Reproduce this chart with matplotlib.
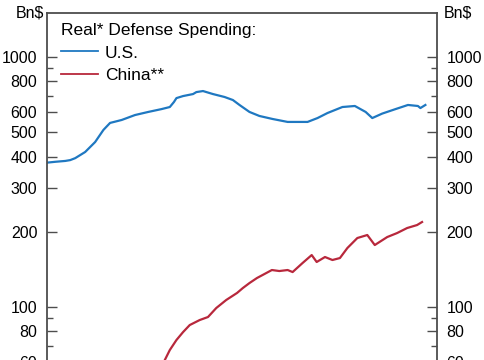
import matplotlib
matplotlib.use("Agg")
import matplotlib.pyplot as plt
from matplotlib.ticker import FixedLocator, FixedFormatter, NullFormatter
import math

plt.rcParams['font.family'] = ['Liberation Sans', 'DejaVu Sans']

# ---- data (decimal years, billions of real dollars) ----
us_years = [2001.5, 2002.0, 2002.6, 2002.9, 2003.2, 2003.8, 2004.4, 2004.9, 2005.3,
            2006.0, 2006.8, 2007.6, 2008.4, 2008.9, 2009.15, 2009.3, 2009.7, 2010.3,
            2010.5, 2010.9, 2011.5, 2012.2, 2012.7, 2013.1, 2013.7, 2014.3, 2015.1,
            2016.0, 2016.6, 2017.2, 2017.8, 2018.4, 2019.3, 2020.05, 2020.7, 2021.1,
            2021.7, 2022.5, 2023.25, 2023.85, 2024.0, 2024.3]
us_values = [378, 381, 384, 387, 394, 417, 457, 511, 545,
             560, 586, 603, 619, 631, 661, 685, 698, 711,
             724, 731, 711, 692, 673, 643, 603, 581, 565,
             550, 550, 550, 570, 597, 631, 637, 603, 570,
             594, 619, 643, 637, 625, 643]

china_years = [2008.2, 2008.6, 2008.9, 2009.3, 2009.7, 2010.1, 2010.7, 2011.2, 2011.7,
               2012.3, 2012.95, 2013.3, 2013.7, 2014.15, 2014.6, 2015.05, 2015.5, 2016.0,
               2016.3, 2016.9, 2017.45, 2017.75, 2018.25, 2018.7, 2019.15, 2019.6, 2019.9,
               2020.2, 2020.8, 2021.25, 2022.0, 2022.6, 2023.2, 2023.8, 2024.1]
china_values = [53, 61.4, 67.3, 73.8, 79.4, 84.7, 88.7, 91.2, 99.1,
                106.7, 113.8, 119.1, 124.7, 130.6, 135.5, 140.6, 139.3, 140.6,
                138.0, 150.0, 161.4, 151.4, 158.5, 154.2, 157.0, 172.2, 180.3,
                188.8, 194.1, 177.0, 190.5, 197.7, 207.0, 212.8, 218.8]

major_ticks = [60, 80, 100, 200, 300, 400, 500, 600, 800, 1000]
major_labels = ['60', '80', '100', '200', '300', '400', '500', '600', '800', '1000']
minor_ticks = [70, 90, 700, 900]

legend_title = "Real* Defense Spending:"
series_names = ["U.S.", "China**"]
unit_label = "Bn$"

us_color = "#1f78c1"
china_color = "#b8283c"
spine_color = "#4d4d4d"

fig = plt.figure(figsize=(4.85, 3.6), dpi=100)
W, H = 485.0, 360.0
left_px, right_px, top_px = 47, 437, 13
ymin, ymax = 30, 1500
px_per_decade = 250.0
height_px = px_per_decade * math.log10(ymax / ymin)
bottom_px = top_px + height_px
ax = fig.add_axes([left_px / W, 1 - bottom_px / H, (right_px - left_px) / W, height_px / H])

ax.plot(us_years, us_values, color=us_color, lw=1.6, label=series_names[0])
ax.plot(china_years, china_values, color=china_color, lw=1.6, label=series_names[1])

ax.set_yscale('log')
ax.set_ylim(ymin, ymax)
ax.set_xlim(2001.5, 2025.0)
ax.yaxis.set_major_locator(FixedLocator(major_ticks))
ax.yaxis.set_major_formatter(FixedFormatter(major_labels))
ax.yaxis.set_minor_locator(FixedLocator(minor_ticks))
ax.yaxis.set_minor_formatter(NullFormatter())
ax.tick_params(axis='y', which='major', direction='in', length=7, width=1.0,
               color=spine_color, labelsize=11.5, left=True, right=True,
               labelleft=True, labelright=True, pad=7, labelcolor='black')
ax.tick_params(axis='y', which='minor', direction='in', length=4, width=1.0,
               color=spine_color, left=True, right=True)
ax.tick_params(axis='x', which='both', bottom=False, labelbottom=False)
for s in ax.spines.values():
    s.set_color(spine_color)
    s.set_linewidth(1.3)

leg = ax.legend(loc='upper left', bbox_to_anchor=(0.01, 1.0), frameon=False,
                title=legend_title, fontsize=12.5, title_fontsize=12.5,
                handlelength=2.1, handletextpad=0.4, labelspacing=0.4,
                alignment='left', borderaxespad=0.2)
for line in leg.get_lines():
    line.set_linewidth(1.3)

fig.text(30 / W, 1 - 13 / H, unit_label, ha='center', va='center', fontsize=11.5)
fig.text(458 / W, 1 - 13 / H, unit_label, ha='center', va='center', fontsize=11.5)

fig.savefig("out.png", dpi=100)
